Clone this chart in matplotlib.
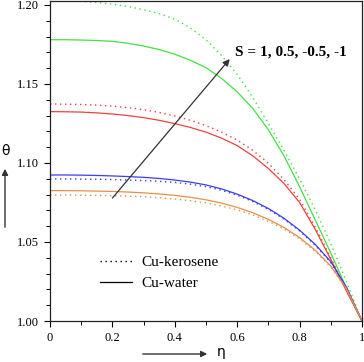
import matplotlib
matplotlib.use("Agg")
import matplotlib.pyplot as plt
from matplotlib.lines import Line2D
from matplotlib.patches import FancyArrowPatch
from matplotlib.ticker import MultipleLocator, FixedLocator

plt.rcParams['font.family'] = ['Liberation Serif', 'DejaVu Serif']

# eta grid and theta profiles
eta = [0, 0.05, 0.1, 0.15, 0.2, 0.25, 0.3, 0.35, 0.4, 0.45, 0.5,
       0.55, 0.6, 0.65, 0.7, 0.75, 0.8, 0.85, 0.9, 0.95, 1.0]

# Cu-kerosene (dotted), S = 1, 0.5, -0.5, -1
ker_s1 = [1.2025, 1.2025, 1.2023, 1.2016, 1.2005, 1.199, 1.197, 1.1945, 1.191, 1.1855, 1.178,
          1.168, 1.156, 1.1415, 1.125, 1.108, 1.090, 1.0705, 1.049, 1.025, 1.0]
ker_s05 = [1.1373, 1.1372, 1.137, 1.1366, 1.136, 1.135, 1.1337, 1.132, 1.1298, 1.127, 1.1237,
           1.1195, 1.1145, 1.108, 1.0998, 1.0895, 1.077, 1.0595, 1.040, 1.0195, 1.0]
ker_sm05 = [1.0899, 1.0899, 1.0898, 1.0897, 1.0895, 1.0892, 1.0889, 1.0884, 1.0877, 1.0866, 1.085,
            1.0827, 1.0796, 1.0756, 1.0706, 1.0645, 1.057, 1.048, 1.037, 1.0212, 1.0]
ker_sm1 = [1.0797, 1.0797, 1.0796, 1.0795, 1.0793, 1.079, 1.0786, 1.078, 1.0772, 1.0761, 1.0747,
           1.0728, 1.0703, 1.0671, 1.0631, 1.0582, 1.052, 1.0442, 1.0343, 1.0202, 1.0]

# Cu-water (solid)
wat_s1 = [1.178, 1.178, 1.1778, 1.1775, 1.177, 1.1757, 1.174, 1.1718, 1.1688, 1.165, 1.1603,
          1.1535, 1.145, 1.1345, 1.121, 1.1045, 1.085, 1.064, 1.043, 1.021, 1.0]
wat_s05 = [1.1325, 1.1324, 1.1322, 1.1317, 1.131, 1.13, 1.1287, 1.127, 1.1249, 1.1225, 1.1195,
           1.1157, 1.111, 1.1045, 1.0965, 1.087, 1.075, 1.058, 1.039, 1.019, 1.0]
wat_sm05 = [1.0924, 1.0924, 1.0923, 1.0921, 1.0918, 1.0914, 1.0909, 1.0902, 1.0892, 1.0879, 1.0861,
            1.0836, 1.0803, 1.0762, 1.0712, 1.065, 1.0575, 1.0485, 1.0375, 1.0215, 1.0]
wat_sm1 = [1.0825, 1.0825, 1.0824, 1.0822, 1.082, 1.0816, 1.0811, 1.0804, 1.0795, 1.0783, 1.0767,
           1.0746, 1.0719, 1.0685, 1.0643, 1.0592, 1.0528, 1.0448, 1.0348, 1.0205, 1.0]

colors = ['#44e044', '#f04040', '#3c3cf0', '#e4904a']
kerosene = [ker_s1, ker_s05, ker_sm05, ker_sm1]
water = [wat_s1, wat_s05, wat_sm05, wat_sm1]

x_ticks = [0, 0.2, 0.4, 0.6, 0.8, 1]
x_labels = ['0', '0.2', '0.4', '0.6', '0.8', '1']
y_ticks = [1.00, 1.05, 1.10, 1.15, 1.20]
y_labels = ['1.00', '1.05', '1.10', '1.15', '1.20']

fig = plt.figure(figsize=(3.64, 3.62), dpi=100)
ax = fig.add_axes([50 / 364, 41 / 362, 312 / 364, 320 / 362])

dot = (0, (1, 2.6))
for c, k, w in zip(colors, kerosene, water):
    ax.plot(eta, k, color=c, lw=1.0, linestyle=dot)
    ax.plot(eta, w, color=c, lw=0.9)

ax.set_xlim(0, 1)
ax.set_ylim(1.0, 1.2025)
ax.xaxis.set_major_locator(FixedLocator(x_ticks))
ax.set_xticklabels(x_labels)
ax.yaxis.set_major_locator(FixedLocator(y_ticks))
ax.set_yticklabels(y_labels)
ax.xaxis.set_minor_locator(MultipleLocator(0.1))
ax.yaxis.set_minor_locator(MultipleLocator(0.01))
ax.tick_params(which='major', length=4, width=0.8, labelsize=9, direction='out', pad=4)
ax.tick_params(which='minor', length=3, width=0.7, direction='out')
for sp in ax.spines.values():
    sp.set_linewidth(0.9)
    sp.set_color('#222222')

# annotation arrow for S
ax.annotate('', xy=(0.576, 1.1658), xytext=(0.2, 1.0778),
            arrowprops=dict(arrowstyle='-|>', color='#333333', lw=0.9,
                            mutation_scale=10, shrinkA=0, shrinkB=0))
ax.text(0.592, 1.170, 'S = 1, 0.5, -0.5, -1', fontsize=11, fontweight='bold',
        va='center', ha='left')

handles = [Line2D([], [], color='black', lw=1.0, linestyle=dot),
           Line2D([], [], color='black', lw=0.9)]
ax.legend(handles, ['Cu-kerosene', 'Cu-water'], loc='upper left',
          bbox_to_anchor=(0.16, 0.205), frameon=False, fontsize=11,
          handlelength=2.1, handletextpad=0.6, labelspacing=0.5,
          borderpad=0, borderaxespad=0)

# axis labels with arrows
fig.text(6 / 364, 1 - 151 / 362, 'θ', fontsize=10, ha='center', va='center',
         family=['DejaVu Sans'])
fig.add_artist(FancyArrowPatch(
    (5 / 364, 1 - 230 / 362), (5 / 364, 1 - 166 / 362), transform=fig.transFigure,
    arrowstyle='-|>', mutation_scale=9, color='#333333', lw=1.0))
fig.text(221 / 364, 1 - 352 / 362, 'η', fontsize=10, ha='center', va='center',
         family=['DejaVu Sans'])
fig.add_artist(FancyArrowPatch(
    (140 / 364, 1 - 354 / 362), (210 / 364, 1 - 354 / 362), transform=fig.transFigure,
    arrowstyle='-|>', mutation_scale=9, color='#333333', lw=1.0))

fig.savefig('out.png', dpi=100)
